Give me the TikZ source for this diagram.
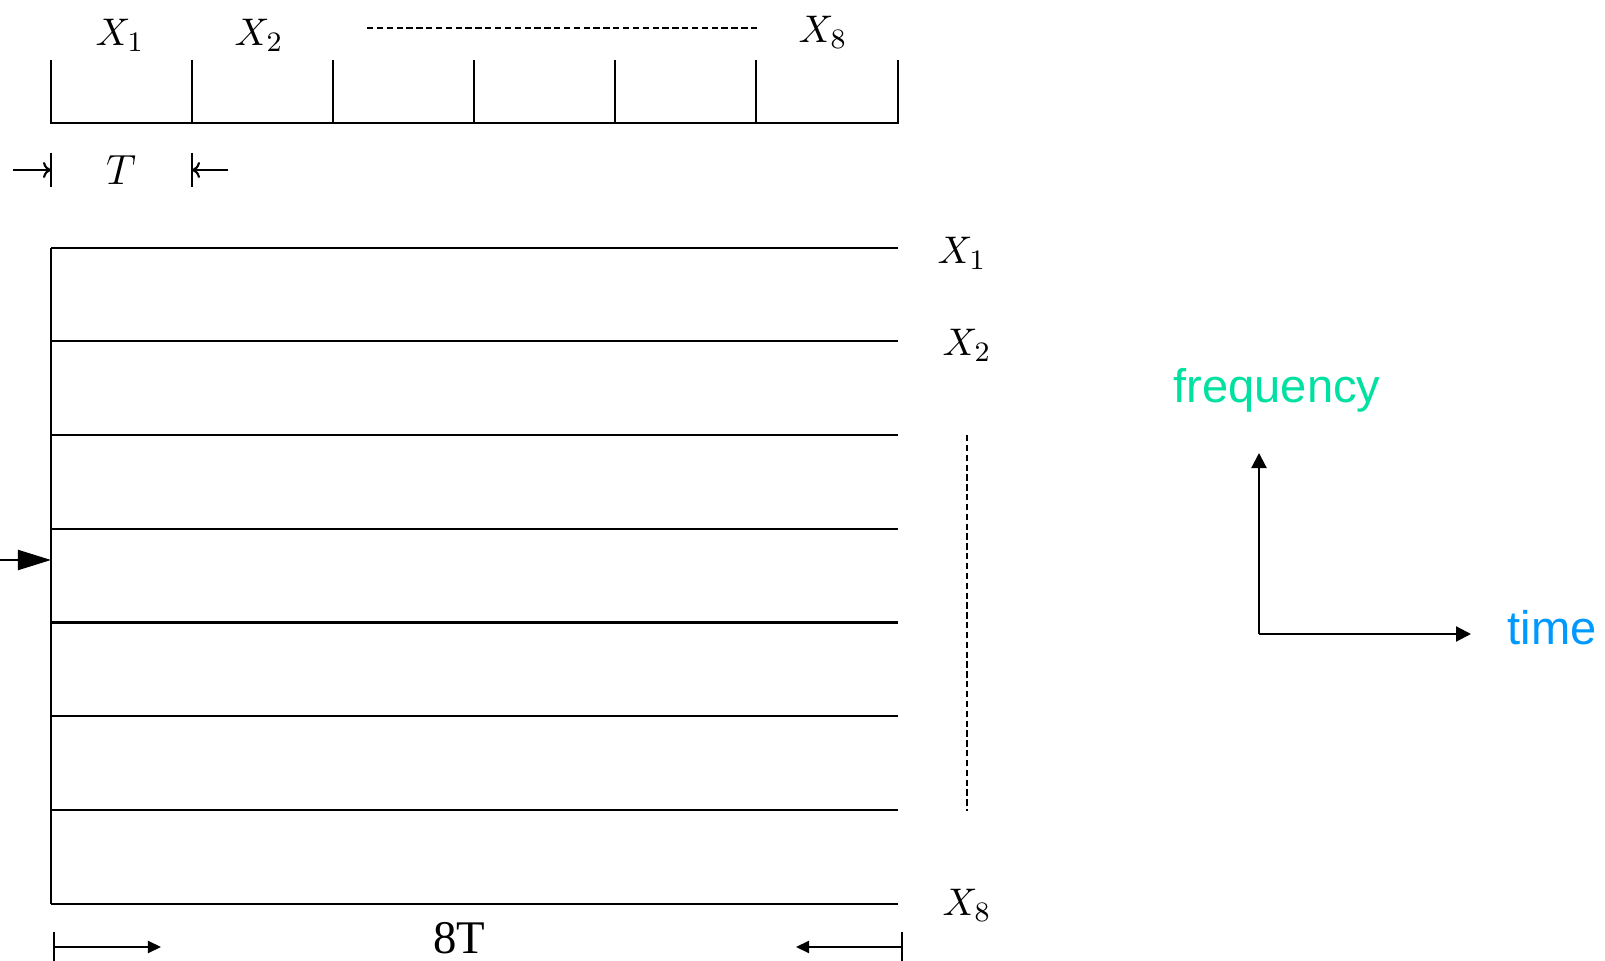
\documentclass[tikz,border=0pt]{standalone}
\usepackage{fontspec}
\setmainfont{Liberation Serif}
\newfontfamily\axisfont{Liberation Sans}
\usetikzlibrary{arrows.meta}
\definecolor{freqcol}{RGB}{0,224,160}
\definecolor{timecol}{RGB}{0,153,255}
\begin{document}
\begin{tikzpicture}[x=0.01cm,y=-0.01cm,line width=0.6pt,
    lbl/.style={font=\fontsize{11}{13}\selectfont},
    dots/.style={line width=0.45pt,dash pattern=on 1.8pt off 1pt},
    tarrow/.style={-{To[length=0.08cm,width=0.16cm]}},
    farrow/.style={-{Triangle[length=0.13cm,width=0.12cm]}},
    axarrow/.style={-{Triangle[length=0.15cm,width=0.15cm]}},
    axtxt/.style={font=\axisfont\fontsize{13.4}{16}\selectfont,anchor=base}]
    \useasboundingbox (0,0) rectangle (1605,961);
    \def\xl{51}
    \def\xr{898}
    \def\ytop{247.7}
    \def\dy{93.7}
    % upper ruler
    \draw (\xl,60) |- (\xr,123) -- (\xr,60);
    \foreach \i in {1,...,5}\draw ({\xl+141*\i},60) -- ++(0,63);
    \node[lbl] (u1) at (120,35) {$X_1$};
    \node[lbl] (u2) at (259,35) {$X_2$};
    \node[lbl] (u8) at (823,32) {$X_8$};
    \coordinate (ua) at (367,28);
    \coordinate (ub) at (757,28);
    \draw[dots] (ua) -- (ub);
    % width of one slot
    \coordinate (ta) at (\xl,170);
    \coordinate (tb) at (192,170);
    \draw (\xl,153) -- (\xl,187) (192,153) -- (192,187);
    \draw[tarrow] (13,170) -- (ta);
    \draw[tarrow] (228,170) -- (tb);
    \node[font=\fontsize{12}{14}\selectfont] (tt) at (121,170) {$T$};
    % lower block
    \draw (\xl,\ytop) -- (\xl,{\ytop+7*\dy});
    \foreach \k in {0,...,7}\draw (\xl,{\ytop+\k*\dy}) -- (\xr,{\ytop+\k*\dy});
    \node[lbl] (r1) at (962,253) {$X_1$};
    \node[lbl] (r2) at (967,345) {$X_2$};
    \node[lbl] (r8) at (967,905) {$X_8$};
    \draw[dots] (967,435) -- (967,811);
    \coordinate (in) at (\xl,560);
    \draw[-{Triangle[length=0.33cm,width=0.2cm]}] (0,560) -- (in);
    % total length
    \draw (54,932) -- (54,961) (902,932) -- (902,961);
    \draw[farrow] (54,947) -- (161,947);
    \draw[farrow] (902,947) -- (796,947);
    \node[font=\fontsize{13.3}{16}\selectfont,anchor=base] (len) at (459,954) {8T};
    % axes
    \coordinate (o) at (1259,634);
    \coordinate (fa) at (1259,453);
    \coordinate (ti) at (1471,634);
    \draw[axarrow] (o) -- (fa);
    \draw[axarrow] (o) -- (ti);
    \node[axtxt,text=freqcol] (freq) at (1277,403) {frequency};
    \node[axtxt,text=timecol] (time) at (1552,645) {time};
\end{tikzpicture}
\end{document}
